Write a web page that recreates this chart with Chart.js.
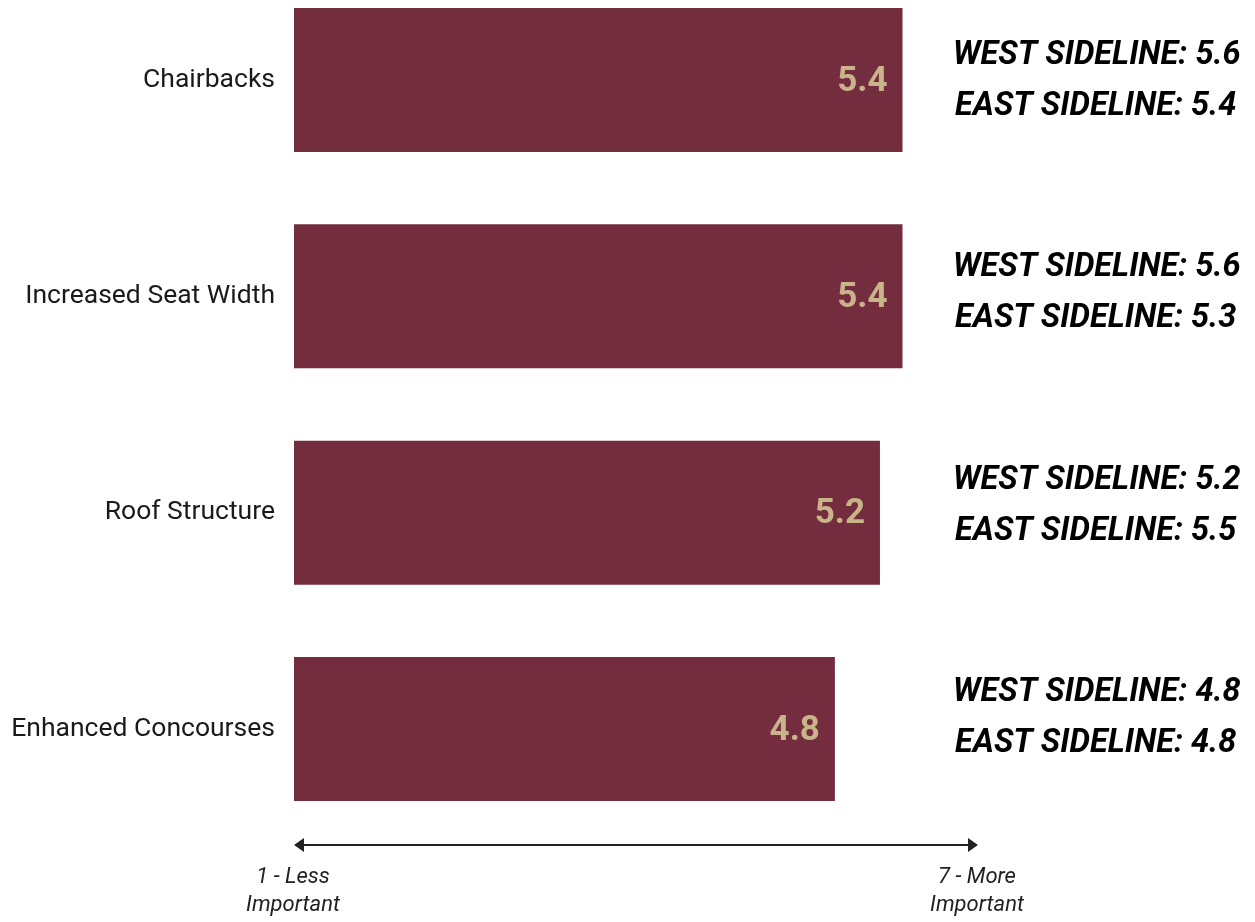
<!DOCTYPE html>
<html>
<head>
<meta charset="utf-8">
<script src="https://cdn.jsdelivr.net/npm/chart.js@4.4.0/dist/chart.umd.min.js"></script>
<style>
  html, body { margin: 0; padding: 0; background: #fff; }
  #wrap { width: 1255px; height: 922px; }
</style>
</head>
<body>
<div id="wrap"><canvas id="amenityChart"></canvas></div>
<script>
var categories = ['Chairbacks', 'Increased Seat Width', 'Roof Structure', 'Enhanced Concourses'];
var overall = [5.4, 5.4, 5.2, 4.8];
var westSideline = [5.6, 5.6, 5.2, 4.8];
var eastSideline = [5.4, 5.3, 5.5, 4.8];
var scaleEnds = [['1 - Less', 'Important'], ['7 - More', 'Important']];

var maroon = '#732d3f';
var gold = '#c9b48a';

// value printed inside the end of each bar
var barValues = {
  id: 'barValues',
  afterDatasetsDraw: function(chart) {
    var ctx = chart.ctx;
    var meta = chart.getDatasetMeta(0);
    ctx.save();
    ctx.font = 'bold 35px Roboto';
    ctx.fillStyle = gold;
    ctx.textAlign = 'right';
    ctx.textBaseline = 'middle';
    meta.data.forEach(function(bar, i) {
      ctx.fillText(overall[i].toFixed(1), bar.x - 15, bar.y + 2);
    });
    ctx.restore();
  }
};

// west / east breakdown to the right of the bars
// (its rows run on a slightly tighter pitch than the bars)
var sidelines = {
  id: 'sidelines',
  afterDraw: function(chart) {
    var ctx = chart.ctx;
    var bars = chart.getDatasetMeta(0).data;
    var x = chart.chartArea.right - 25;
    var first = bars[0].y;
    var pitch = (bars[bars.length - 1].y - first) / (bars.length - 1) * 0.981;
    ctx.save();
    ctx.font = 'italic bold 32.5px Roboto';
    ctx.fillStyle = '#000';
    ctx.textAlign = 'left';
    ctx.textBaseline = 'middle';
    bars.forEach(function(bar, i) {
      var y = first + i * pitch;
      ctx.fillText('WEST SIDELINE: ' + westSideline[i].toFixed(1), x, y - 24);
      ctx.fillText('EAST SIDELINE: ' + eastSideline[i].toFixed(1), x + 2, y + 27);
    });
    ctx.restore();
  }
};

// double-headed arrow under the bars with the scale anchors
var scaleArrow = {
  id: 'scaleArrow',
  afterDraw: function(chart) {
    var ctx = chart.ctx;
    var area = chart.chartArea;
    var x0 = area.left, x1 = area.right;
    var y = area.bottom + 116;
    ctx.save();
    ctx.strokeStyle = '#222';
    ctx.fillStyle = '#222';
    ctx.lineWidth = 2;
    ctx.beginPath();
    ctx.moveTo(x0 + 6, y);
    ctx.lineTo(x1 - 6, y);
    ctx.stroke();
    ctx.beginPath();
    ctx.moveTo(x0, y);
    ctx.lineTo(x0 + 10, y - 7);
    ctx.lineTo(x0 + 10, y + 7);
    ctx.closePath();
    ctx.fill();
    ctx.beginPath();
    ctx.moveTo(x1, y);
    ctx.lineTo(x1 - 10, y - 7);
    ctx.lineTo(x1 - 10, y + 7);
    ctx.closePath();
    ctx.fill();

    ctx.font = 'italic 22px Roboto';
    ctx.textAlign = 'center';
    ctx.textBaseline = 'middle';
    [x0, x1].forEach(function(px, i) {
      ctx.fillText(scaleEnds[i][0], px - 1, y + 32);
      ctx.fillText(scaleEnds[i][1], px - 1, y + 60);
    });
    ctx.restore();
  }
};

var ctx = document.getElementById('amenityChart').getContext('2d');
var amenityChart = new Chart(ctx, {
  type: 'bar',
  data: {
    labels: categories,
    datasets: [{
      label: 'Average rating',
      data: overall,
      backgroundColor: maroon,
      borderWidth: 0,
      categoryPercentage: 1,
      barPercentage: 0.666,
      clip: false
    }]
  },
  options: {
    indexAxis: 'y',
    responsive: true,
    maintainAspectRatio: false,
    animation: false,
    layout: {
      padding: { top: 80, right: 277, bottom: 193, left: 0 }
    },
    scales: {
      x: {
        display: false,
        min: 0,
        max: 6.07
      },
      y: {
        offset: false,
        grid: { display: false },
        border: { display: false },
        ticks: {
          color: '#1a1a1a',
          padding: 11,
          font: { family: 'Roboto', size: 26.5 }
        },
        afterFit: function(scale) {
          scale.width = 294;
        }
      }
    },
    plugins: {
      legend: { display: false },
      tooltip: { enabled: false }
    }
  },
  plugins: [barValues, sidelines, scaleArrow]
});
</script>
</body>
</html>
